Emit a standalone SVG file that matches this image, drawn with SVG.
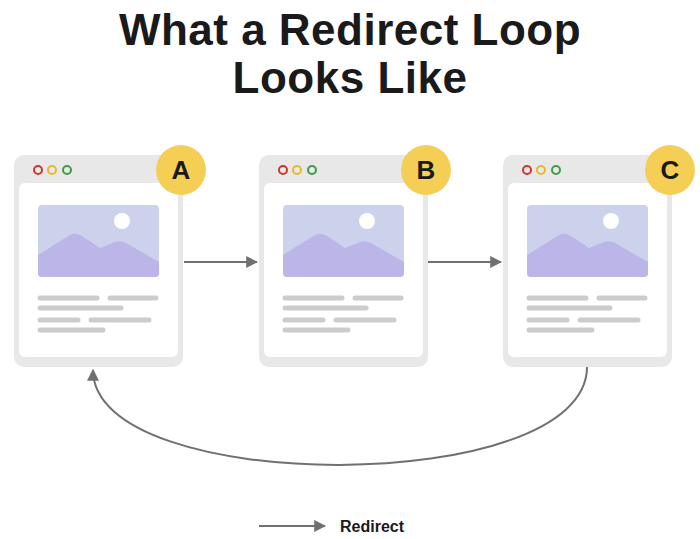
<svg xmlns="http://www.w3.org/2000/svg" width="700" height="539" viewBox="0 0 700 539">
<defs>
<style>
.t{font-family:"Liberation Sans",Arial,sans-serif;font-weight:bold;fill:#1a1a1a}
.ln{stroke:#cccccc;stroke-width:5;stroke-linecap:round}
.con{stroke:#707070;stroke-width:2;fill:none}
</style>
<marker id="ah" viewBox="0 0 10 10" refX="9" refY="5" markerWidth="6" markerHeight="6" orient="auto"><path d="M0,0L10,5L0,10z" fill="#707070"/></marker>
<g id="win">
<rect x="14" y="155" width="169" height="212" rx="10" fill="#e8e8e8"/>
<rect x="19" y="183" width="159" height="174" rx="6" fill="#fff"/>
<circle cx="38" cy="170" r="4" fill="none" stroke="#d0342c" stroke-width="2"/>
<circle cx="52" cy="170" r="4" fill="none" stroke="#e8b923" stroke-width="2"/>
<circle cx="67" cy="170" r="4" fill="none" stroke="#3e9b45" stroke-width="2"/>
<rect x="38" y="205" width="121" height="72" rx="4" fill="#ccd2ec"/>
<path d="M38,255L70,235Q75,232 82,236L100,248L115,242Q120,240 126,243L159,262V273Q159,277 155,277H42Q38,277 38,273Z" fill="#bcb6e8"/>
<circle cx="122" cy="221" r="8" fill="#fff"/>
<line class="ln" x1="40" y1="298" x2="97" y2="298"/><line class="ln" x1="110" y1="298" x2="156" y2="298"/>
<line class="ln" x1="40" y1="308" x2="121" y2="308"/>
<line class="ln" x1="40" y1="320" x2="78" y2="320"/><line class="ln" x1="91" y1="320" x2="149" y2="320"/>
<line class="ln" x1="40" y1="330" x2="103" y2="330"/>
</g>
</defs>
<text class="t" x="350" y="45" font-size="44" letter-spacing="0.5" text-anchor="middle">What a Redirect Loop</text>
<text class="t" x="350" y="93" font-size="44" letter-spacing="0.5" text-anchor="middle">Looks Like</text>
<g id="nodeA"><use href="#win"/><circle cx="181" cy="170" r="25" fill="#f5cf55"/><text class="t" x="181" y="179" font-size="26" text-anchor="middle">A</text></g>
<g id="nodeB"><use href="#win" x="245"/><circle cx="426" cy="170" r="25" fill="#f5cf55"/><text class="t" x="426" y="179" font-size="26" text-anchor="middle">B</text></g>
<g id="nodeC"><use href="#win" x="489"/><circle cx="670" cy="170" r="25" fill="#f5cf55"/><text class="t" x="670" y="179" font-size="26" text-anchor="middle">C</text></g>
<g id="connectors">
<line class="con" x1="184" y1="262" x2="257" y2="262" marker-end="url(#ah)"/>
<line class="con" x1="428" y1="262" x2="501" y2="262" marker-end="url(#ah)"/>
<path class="con" d="M587,367C587,497 93,497 93,370" marker-end="url(#ah)"/>
<line class="con" x1="259" y1="526" x2="325" y2="526" marker-end="url(#ah)"/>
</g>
<text class="t" x="340" y="532" font-size="16">Redirect</text>
</svg>
